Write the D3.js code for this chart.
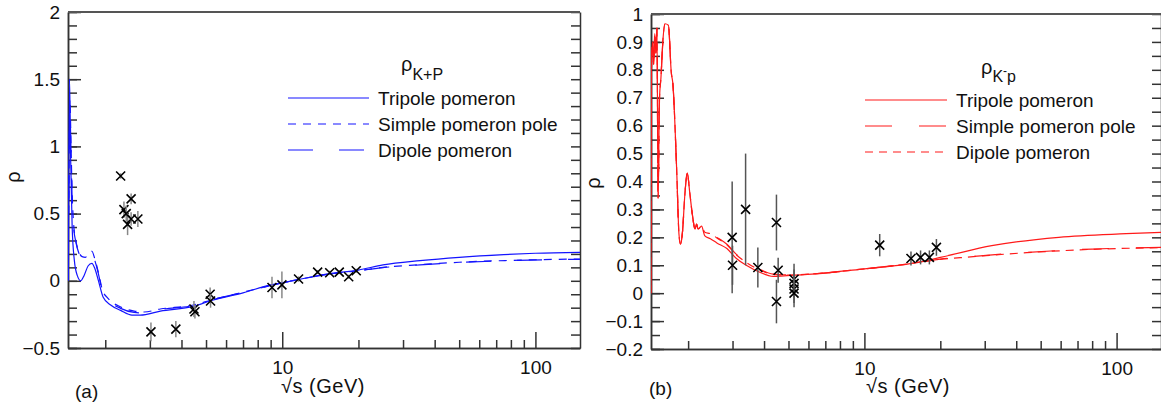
<!DOCTYPE html>
<html>
<head>
<meta charset="utf-8">
<script src="https://cdn.jsdelivr.net/npm/d3@7"></script>
<style>
body { margin: 0; background: #fff; }
text { font-family: "Liberation Sans", Arial, sans-serif; }
</style>
</head>
<body>
<div id="cont"></div>
<script>
// ---- panel (a): K+p, [sqrt(s) GeV, rho]
var kpTripole = [[1.43,0],[1.445,1.5],[1.46,0.9],[1.48,0.4],[1.51,0.15],[1.55,0.04],[1.6,0],[1.65,0.04],
  [1.71,0.11],[1.77,0.13],[1.82,0.09],[1.88,0],[1.96,-0.12],[2.1,-0.18],[2.3,-0.22],[2.55,-0.255],
  [2.75,-0.255],[3.3,-0.225],[4.46,-0.19],[5.3,-0.145],[7,-0.09],[9,-0.03],[10,-0.015],[12,0.015],
  [15,0.05],[20,0.08],[25,0.118],[35,0.15],[50,0.175],[75,0.195],[100,0.205],[150,0.212]];
var kpSimple = [[1.435,0.5],[1.45,1.35],[1.465,1.0],[1.48,0.65],[1.5,0.42],[1.53,0.3],[1.57,0.22],[1.62,0.18],
  [1.67,0.175],[1.72,0.2],[1.77,0.22],[1.82,0.16],[1.88,0.06],[1.95,-0.07],[2.05,-0.13],[2.3,-0.195],
  [2.6,-0.225],[2.85,-0.232],[3.3,-0.21],[4.46,-0.18],[5.3,-0.14],[7,-0.085],[10,-0.015],[12,0.015],
  [15,0.048],[20,0.075],[25,0.1],[35,0.12],[50,0.138],[80,0.152],[150,0.162]];
var kpDipole = [[1.435,0.6],[1.45,1.25],[1.465,0.95],[1.48,0.6],[1.5,0.4],[1.53,0.29],[1.57,0.21],[1.62,0.17],
  [1.67,0.17],[1.72,0.19],[1.77,0.21],[1.82,0.15],[1.88,0.05],[1.95,-0.08],[2.05,-0.14],[2.3,-0.205],
  [2.6,-0.235],[2.85,-0.24],[3.3,-0.215],[4.46,-0.183],[5.3,-0.142],[7,-0.087],[10,-0.016],[12,0.014],
  [15,0.047],[20,0.074],[25,0.098],[35,0.118],[50,0.136],[80,0.15],[150,0.16]];
// measured points [sqrt(s), rho, error]
var kpData = [[2.30,0.78,0.02],[2.37,0.53,0.06],[2.42,0.5,0.06],[2.53,0.61,0.04],[2.45,0.42,0.08],
  [2.53,0.46,0.05],[2.69,0.46,0.06],[3.03,-0.38,0.07],[3.8,-0.36,0.06],[4.48,-0.21,0.06],
  [4.52,-0.23,0.05],[5.19,-0.1,0.05],[5.21,-0.15,0.05],[9.11,-0.05,0.08],[9.97,-0.03,0.1],
  [11.6,0.013,0.02],[13.8,0.065,0.015],[15.4,0.06,0.015],[16.8,0.065,0.015],[18.3,0.03,0.015],
  [19.6,0.075,0.015]];

// ---- panel (b): K-p
var kmTripole = [[1.422,0],[1.43,0.8],[1.445,0.9],[1.46,0.82],[1.475,0.93],[1.49,0.86],[1.505,0.95],[1.52,0.34],
  [1.54,0.7],[1.56,0.77],[1.59,0.91],[1.62,0.965],[1.67,0.96],[1.715,0.79],[1.74,0.75],[1.8,0.45],
  [1.84,0.21],[1.865,0.176],[1.9,0.22],[1.94,0.35],[1.985,0.43],[2.03,0.36],[2.08,0.28],[2.13,0.23],
  [2.16,0.247],[2.19,0.23],[2.26,0.24],[2.33,0.205],[2.45,0.195],[2.6,0.18],[2.85,0.16],[3.1,0.125],
  [3.4,0.1],[3.85,0.075],[4.35,0.06],[4.8,0.062],[6.2,0.068],[10,0.087],[15,0.105],[20,0.128],
  [32,0.17],[59,0.2],[109,0.213],[150,0.218]];
var kmSimple = [[1.422,0],[1.43,0.8],[1.445,0.9],[1.46,0.82],[1.475,0.93],[1.49,0.86],[1.505,0.95],[1.52,0.34],
  [1.54,0.7],[1.56,0.77],[1.59,0.91],[1.62,0.965],[1.67,0.96],[1.715,0.79],[1.74,0.75],[1.8,0.45],
  [1.84,0.21],[1.865,0.176],[1.9,0.22],[1.94,0.35],[1.985,0.43],[2.03,0.36],[2.08,0.28],[2.13,0.23],
  [2.16,0.247],[2.19,0.23],[2.26,0.24],[2.33,0.22],[2.45,0.215],[2.6,0.2],[2.85,0.175],[3.1,0.14],
  [3.4,0.112],[3.85,0.085],[4.35,0.068],[4.8,0.066],[6.2,0.069],[10,0.087],[15,0.105],[20,0.122],
  [24,0.128],[44,0.146],[80,0.158],[150,0.164]];
var kmDipole = [[1.422,0],[1.43,0.8],[1.445,0.9],[1.46,0.82],[1.475,0.93],[1.49,0.86],[1.505,0.95],[1.52,0.34],
  [1.54,0.7],[1.56,0.77],[1.59,0.91],[1.62,0.965],[1.67,0.96],[1.715,0.79],[1.74,0.75],[1.8,0.45],
  [1.84,0.21],[1.865,0.176],[1.9,0.22],[1.94,0.35],[1.985,0.43],[2.03,0.36],[2.08,0.28],[2.13,0.23],
  [2.16,0.247],[2.19,0.23],[2.26,0.24],[2.33,0.218],[2.45,0.213],[2.6,0.198],[2.85,0.173],[3.1,0.138],
  [3.4,0.11],[3.85,0.083],[4.35,0.067],[4.8,0.065],[6.2,0.069],[10,0.087],[15,0.105],[20,0.121],
  [24,0.127],[44,0.145],[80,0.157],[150,0.163]];
var kmData = [[2.99,0.2,0.2],[3.0,0.1,0.07],[3.38,0.3,0.2],[3.78,0.092,0.072],[4.48,0.253,0.1],
  [4.55,0.082,0.045],[4.48,-0.03,0.078],[5.26,0.05,0.055],[5.26,0.035,0.05],[5.26,0.015,0.05],
  [5.26,0.0,0.05],[11.5,0.172,0.04],[15.3,0.124,0.025],[16.7,0.128,0.025],[18.1,0.128,0.025],
  [19.3,0.164,0.03]];

var xMinorTicks = [2,3,4,5,6,7,8,9,20,30,40,50,60,70,80,90];
var xMajorTicks = [10,100];
var legendNames = ["Tripole pomeron", "Simple pomeron pole", "Dipole pomeron"];

var svg = d3.select("#cont").append("svg")
    .attr("width", 1161)
    .attr("height", 412);

var drawPanel = function(p) {
    var x = d3.scaleLog().domain([1.425, 150]).range([p.left, p.right]);
    var y = d3.scaleLinear().domain(p.ydom).range([p.bottom, p.top]);
    var g = svg.append("g");
    var axCol = "#333";

    var clipId = "clip" + p.tag;
    svg.append("clipPath").attr("id", clipId).append("rect")
        .attr("x", p.left).attr("y", p.top)
        .attr("width", p.right - p.left).attr("height", p.bottom - p.top);

    // axes, ticks pointing inwards
    var styleAxis = function(a) {
        a.selectAll("path,line").attr("stroke", axCol).attr("stroke-width", 1.5);
        a.selectAll("text").attr("fill", "#111").style("font-size", "19px")
            .style("font-family", "'Liberation Sans', Arial, sans-serif");
    };
    g.append("g").attr("transform", "translate(0," + p.bottom + ")")
        .call(d3.axisBottom(x).tickValues(xMinorTicks).tickSize(-8).tickSizeOuter(0).tickFormat(""))
        .call(styleAxis);
    g.append("g").attr("transform", "translate(0," + p.bottom + ")")
        .call(d3.axisBottom(x).tickValues(xMajorTicks).tickSize(-16).tickSizeOuter(0)
            .tickPadding(13).tickFormat(d3.format("d")))
        .call(styleAxis);
    g.append("g").attr("transform", "translate(" + p.left + ",0)")
        .call(d3.axisLeft(y).ticks(p.minorN).tickSize(-9).tickSizeOuter(0).tickFormat(""))
        .call(styleAxis);
    g.append("g").attr("transform", "translate(" + p.left + ",0)")
        .call(d3.axisLeft(y).ticks(p.majorN).tickSize(-13).tickSizeOuter(0).tickPadding(8)
            .tickFormat(d3.format("")))
        .call(styleAxis);
    g.append("g").attr("transform", "translate(" + p.right + ",0)")
        .call(d3.axisRight(y).ticks(p.minorN).tickSize(-9).tickSizeOuter(0).tickFormat(""))
        .call(styleAxis);
    g.append("line").attr("x1", p.left).attr("x2", p.right)
        .attr("y1", p.top).attr("y2", p.top)
        .attr("stroke", "#555").attr("stroke-width", 2);

    // model curves
    var line = d3.line()
        .x(function(d) { return x(d[0]); })
        .y(function(d) { return y(d[1]); })
        .curve(d3.curveMonotoneX);
    var cg = g.append("g").attr("clip-path", "url(#" + clipId + ")");
    p.curves.forEach(function(c) {
        cg.append("path").attr("d", line(c.data))
            .attr("fill", "none")
            .attr("stroke", p.color)
            .attr("stroke-width", 1.2)
            .attr("stroke-dasharray", c.dash);
    });

    // measurements
    var pts = g.append("g").selectAll("g").data(p.points).join("g");
    pts.append("line")
        .attr("x1", function(d) { return x(d[0]); })
        .attr("x2", function(d) { return x(d[0]); })
        .attr("y1", function(d) { return y(d[1] - d[2]); })
        .attr("y2", function(d) { return y(d[1] + d[2]); })
        .attr("stroke", p.errCol).attr("stroke-width", 1.5);
    pts.append("path")
        .attr("d", function(d) {
            var cx = x(d[0]), cy = y(d[1]), r = 4.5;
            return "M" + (cx - r) + "," + (cy - r) + "L" + (cx + r) + "," + (cy + r) +
                "M" + (cx - r) + "," + (cy + r) + "L" + (cx + r) + "," + (cy - r);
        })
        .attr("stroke", "#000").attr("stroke-width", 1.6).attr("fill", "none");

    // legend
    var t = g.append("text").attr("x", p.legTitleX).attr("y", p.legTitleY)
        .style("font-size", "20px").attr("fill", "#111");
    t.append("tspan").text("ρ");
    p.subscript(t);
    p.curves.forEach(function(c, i) {
        var ly = p.legY + i * 26;
        g.append("line").attr("x1", p.legX1).attr("x2", p.legX2)
            .attr("y1", ly).attr("y2", ly)
            .attr("stroke", p.color).attr("stroke-width", 1.2)
            .attr("stroke-dasharray", c.dash);
        g.append("text").attr("x", p.legX2 + 9).attr("y", ly + 7)
            .style("font-size", "19px").attr("fill", "#111")
            .text(c.name);
    });

    // axis titles
    g.append("text")
        .attr("transform", "translate(" + p.yLabX + "," + p.yLabY + ") rotate(-90)")
        .attr("text-anchor", "middle").style("font-size", "20px").attr("fill", "#111")
        .text("ρ");
    g.append("text").attr("x", p.xLabX).attr("y", 393)
        .attr("text-anchor", "middle").style("font-size", "20px").attr("fill", "#111")
        .style("letter-spacing", "0.5px")
        .text("√s (GeV)");
    g.append("text").attr("x", p.tagX).attr("y", p.tagY)
        .style("font-size", "19px").attr("fill", "#111")
        .text("(" + p.tag + ")");
};

drawPanel({
    tag: "a", left: 68, right: 580, top: 12, bottom: 348, ydom: [-0.5, 2],
    minorN: 25, majorN: 5, color: "#1414ff", errCol: "#888",
    curves: [
        { name: legendNames[0], data: kpTripole, dash: null },
        { name: legendNames[1], data: kpSimple, dash: "8,7" },
        { name: legendNames[2], data: kpDipole, dash: "25,26" }
    ],
    points: kpData,
    legTitleX: 401, legTitleY: 71, legX1: 288, legX2: 369, legY: 98,
    subscript: function(t) {
        t.append("tspan").attr("dy", 9).style("font-size", "16px").text("K+P");
    },
    yLabX: 20, yLabY: 177, xLabX: 323, tagX: 75, tagY: 398
});

drawPanel({
    tag: "b", left: 651, right: 1161, top: 14, bottom: 349, ydom: [-0.2, 1],
    minorN: 24, majorN: 12, color: "#ff1a1a", errCol: "#555",
    curves: [
        { name: legendNames[0], data: kmTripole, dash: null },
        { name: legendNames[1], data: kmSimple, dash: "27,27" },
        { name: legendNames[2], data: kmDipole, dash: "8,6" }
    ],
    points: kmData,
    legTitleX: 981, legTitleY: 74, legX1: 865, legX2: 947, legY: 100,
    subscript: function(t) {
        t.append("tspan").attr("dy", 8).style("font-size", "16px").text("K");
        t.append("tspan").attr("dy", -7).style("font-size", "12px").text("-");
        t.append("tspan").attr("dy", 7).style("font-size", "16px").text("p");
    },
    yLabX: 600, yLabY: 183, xLabX: 908, tagX: 649, tagY: 395
});
</script>
</body>
</html>
